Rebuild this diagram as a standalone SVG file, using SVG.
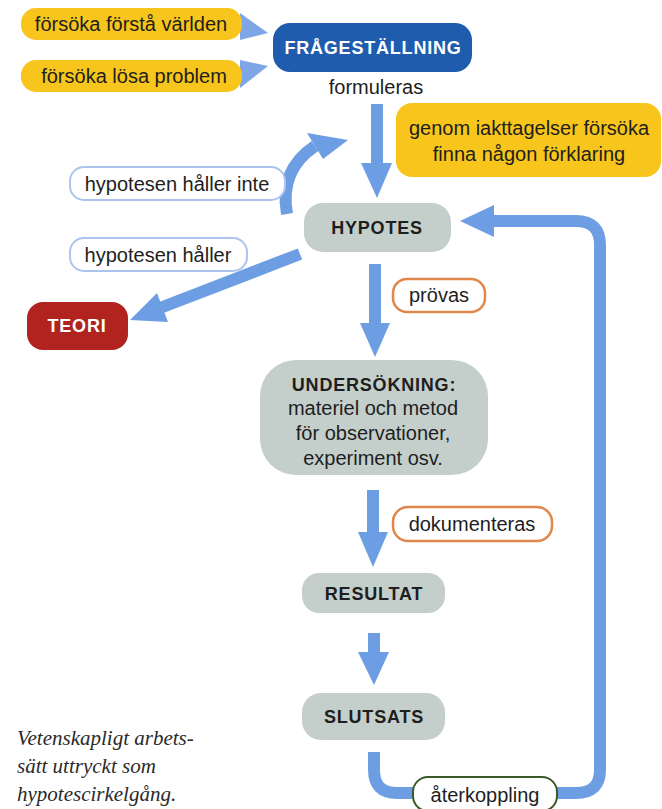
<svg xmlns="http://www.w3.org/2000/svg" width="662" height="809" viewBox="0 0 662 809">
<style>
text{font-family:"Liberation Sans",Arial,sans-serif;fill:#1e1e1e;font-size:20px;text-anchor:middle}
.b{font-weight:bold;font-size:18px;letter-spacing:0.8px}
.w{fill:#ffffff}
.yel{fill:#f7c51b}
.gray{fill:#c4cfcb}
.shaft{fill:none;stroke:#6d9ee4;stroke-width:12}
.head{fill:#6d9ee4}
.wedge{fill:#7ea6e6}
.lblB{fill:#ffffff;stroke:#aac4ee;stroke-width:2}
.lblO{fill:#ffffff;stroke:#e0874b;stroke-width:2.5}
.lblG{fill:#ffffff;stroke:#3a5a2a;stroke-width:2}
.cap{font-family:"Liberation Serif","Times New Roman",serif;font-style:italic;font-size:21px;text-anchor:start;fill:#2a2a2a}
</style>
<rect width="662" height="809" fill="#ffffff"/>

<g id="connectors">
  <polygon class="wedge" points="240,13 268,33 240,40"/>
  <polygon class="wedge" points="240,60 268,66 240,88"/>
  <line class="shaft" x1="377" y1="104" x2="377" y2="166"/>
  <polygon class="head" points="361,163 392,163 377,198"/>
  <path class="shaft" d="M287 214 Q279 170 315 146"/>
  <polygon class="head" points="307,133 348,140 323,159"/>
  <line class="shaft" x1="300" y1="254" x2="160" y2="308"/>
  <polygon class="head" points="157,293 168,322 130,320"/>
  <line class="shaft" x1="375" y1="264" x2="375" y2="326"/>
  <polygon class="head" points="360,323 390,323 375,357"/>
  <line class="shaft" x1="373" y1="490" x2="373" y2="535"/>
  <polygon class="head" points="358,532 388,532 373,567"/>
  <line class="shaft" x1="374" y1="633" x2="374" y2="655"/>
  <polygon class="head" points="358,652 389,652 374,685"/>
  <path class="shaft" d="M374 752 V770 Q374 793 397 793 H576 Q600 793 600 770 V245 Q600 221 576 221 H490"/>
  <polygon class="head" points="494,205 494,237 460,221"/>
</g>

<g id="n-forsta">
  <rect class="yel" x="21" y="8" width="221" height="32" rx="15"/>
  <text x="131" y="31">försöka förstå världen</text>
</g>
<g id="n-losa">
  <rect class="yel" x="21" y="60" width="221" height="32" rx="15"/>
  <text x="134" y="83">försöka lösa problem</text>
</g>
<g id="n-fragestallning">
  <rect x="273" y="23" width="199" height="49" rx="17" fill="#1f5cae"/>
  <text class="b w" x="373" y="54">FRÅGESTÄLLNING</text>
  <text x="376" y="94">formuleras</text>
</g>
<g id="n-genom">
  <rect class="yel" x="396" y="103" width="265" height="74" rx="16"/>
  <text x="529" y="135">genom iakttagelser försöka</text>
  <text x="529" y="161">finna någon förklaring</text>
</g>
<g id="n-hypotes">
  <rect class="gray" x="304" y="203" width="147" height="49" rx="19"/>
  <text class="b" x="377" y="234">HYPOTES</text>
</g>
<g id="n-haller-inte">
  <rect class="lblB" x="70" y="167" width="215" height="33" rx="14"/>
  <text x="177" y="191">hypotesen håller inte</text>
</g>
<g id="n-haller">
  <rect class="lblB" x="70" y="238" width="177" height="33" rx="14"/>
  <text x="158" y="262">hypotesen håller</text>
</g>
<g id="n-teori">
  <rect x="27" y="302" width="101" height="48" rx="16" fill="#b1231f"/>
  <text class="b w" x="77" y="332">TEORI</text>
</g>
<g id="n-provas">
  <rect class="lblO" x="393" y="279" width="92" height="33" rx="14"/>
  <text x="439" y="302">prövas</text>
</g>
<g id="n-undersokning">
  <rect class="gray" x="260" y="360" width="228" height="115" rx="36"/>
  <text class="b" x="374" y="391">UNDERSÖKNING:</text>
  <text x="373" y="415">materiel och metod</text>
  <text x="373" y="440">för observationer,</text>
  <text x="373" y="465">experiment osv.</text>
</g>
<g id="n-dokumenteras">
  <rect class="lblO" x="393" y="507" width="159" height="34" rx="15"/>
  <text x="472" y="531">dokumenteras</text>
</g>
<g id="n-resultat">
  <rect class="gray" x="302" y="573" width="143" height="40" rx="17"/>
  <text class="b" x="374" y="600">RESULTAT</text>
</g>
<g id="n-slutsats">
  <rect class="gray" x="302" y="693" width="143" height="47" rx="19"/>
  <text class="b" x="374" y="723">SLUTSATS</text>
</g>
<g id="n-aterkoppling">
  <rect class="lblG" x="413" y="777" width="144" height="34" rx="15"/>
  <text x="485" y="802">återkoppling</text>
</g>
<g id="caption">
  <text class="cap" x="17" y="745">Vetenskapligt arbets-</text>
  <text class="cap" x="17" y="773">sätt uttryckt som</text>
  <text class="cap" x="17" y="801">hypotescirkelgång.</text>
</g>
</svg>
